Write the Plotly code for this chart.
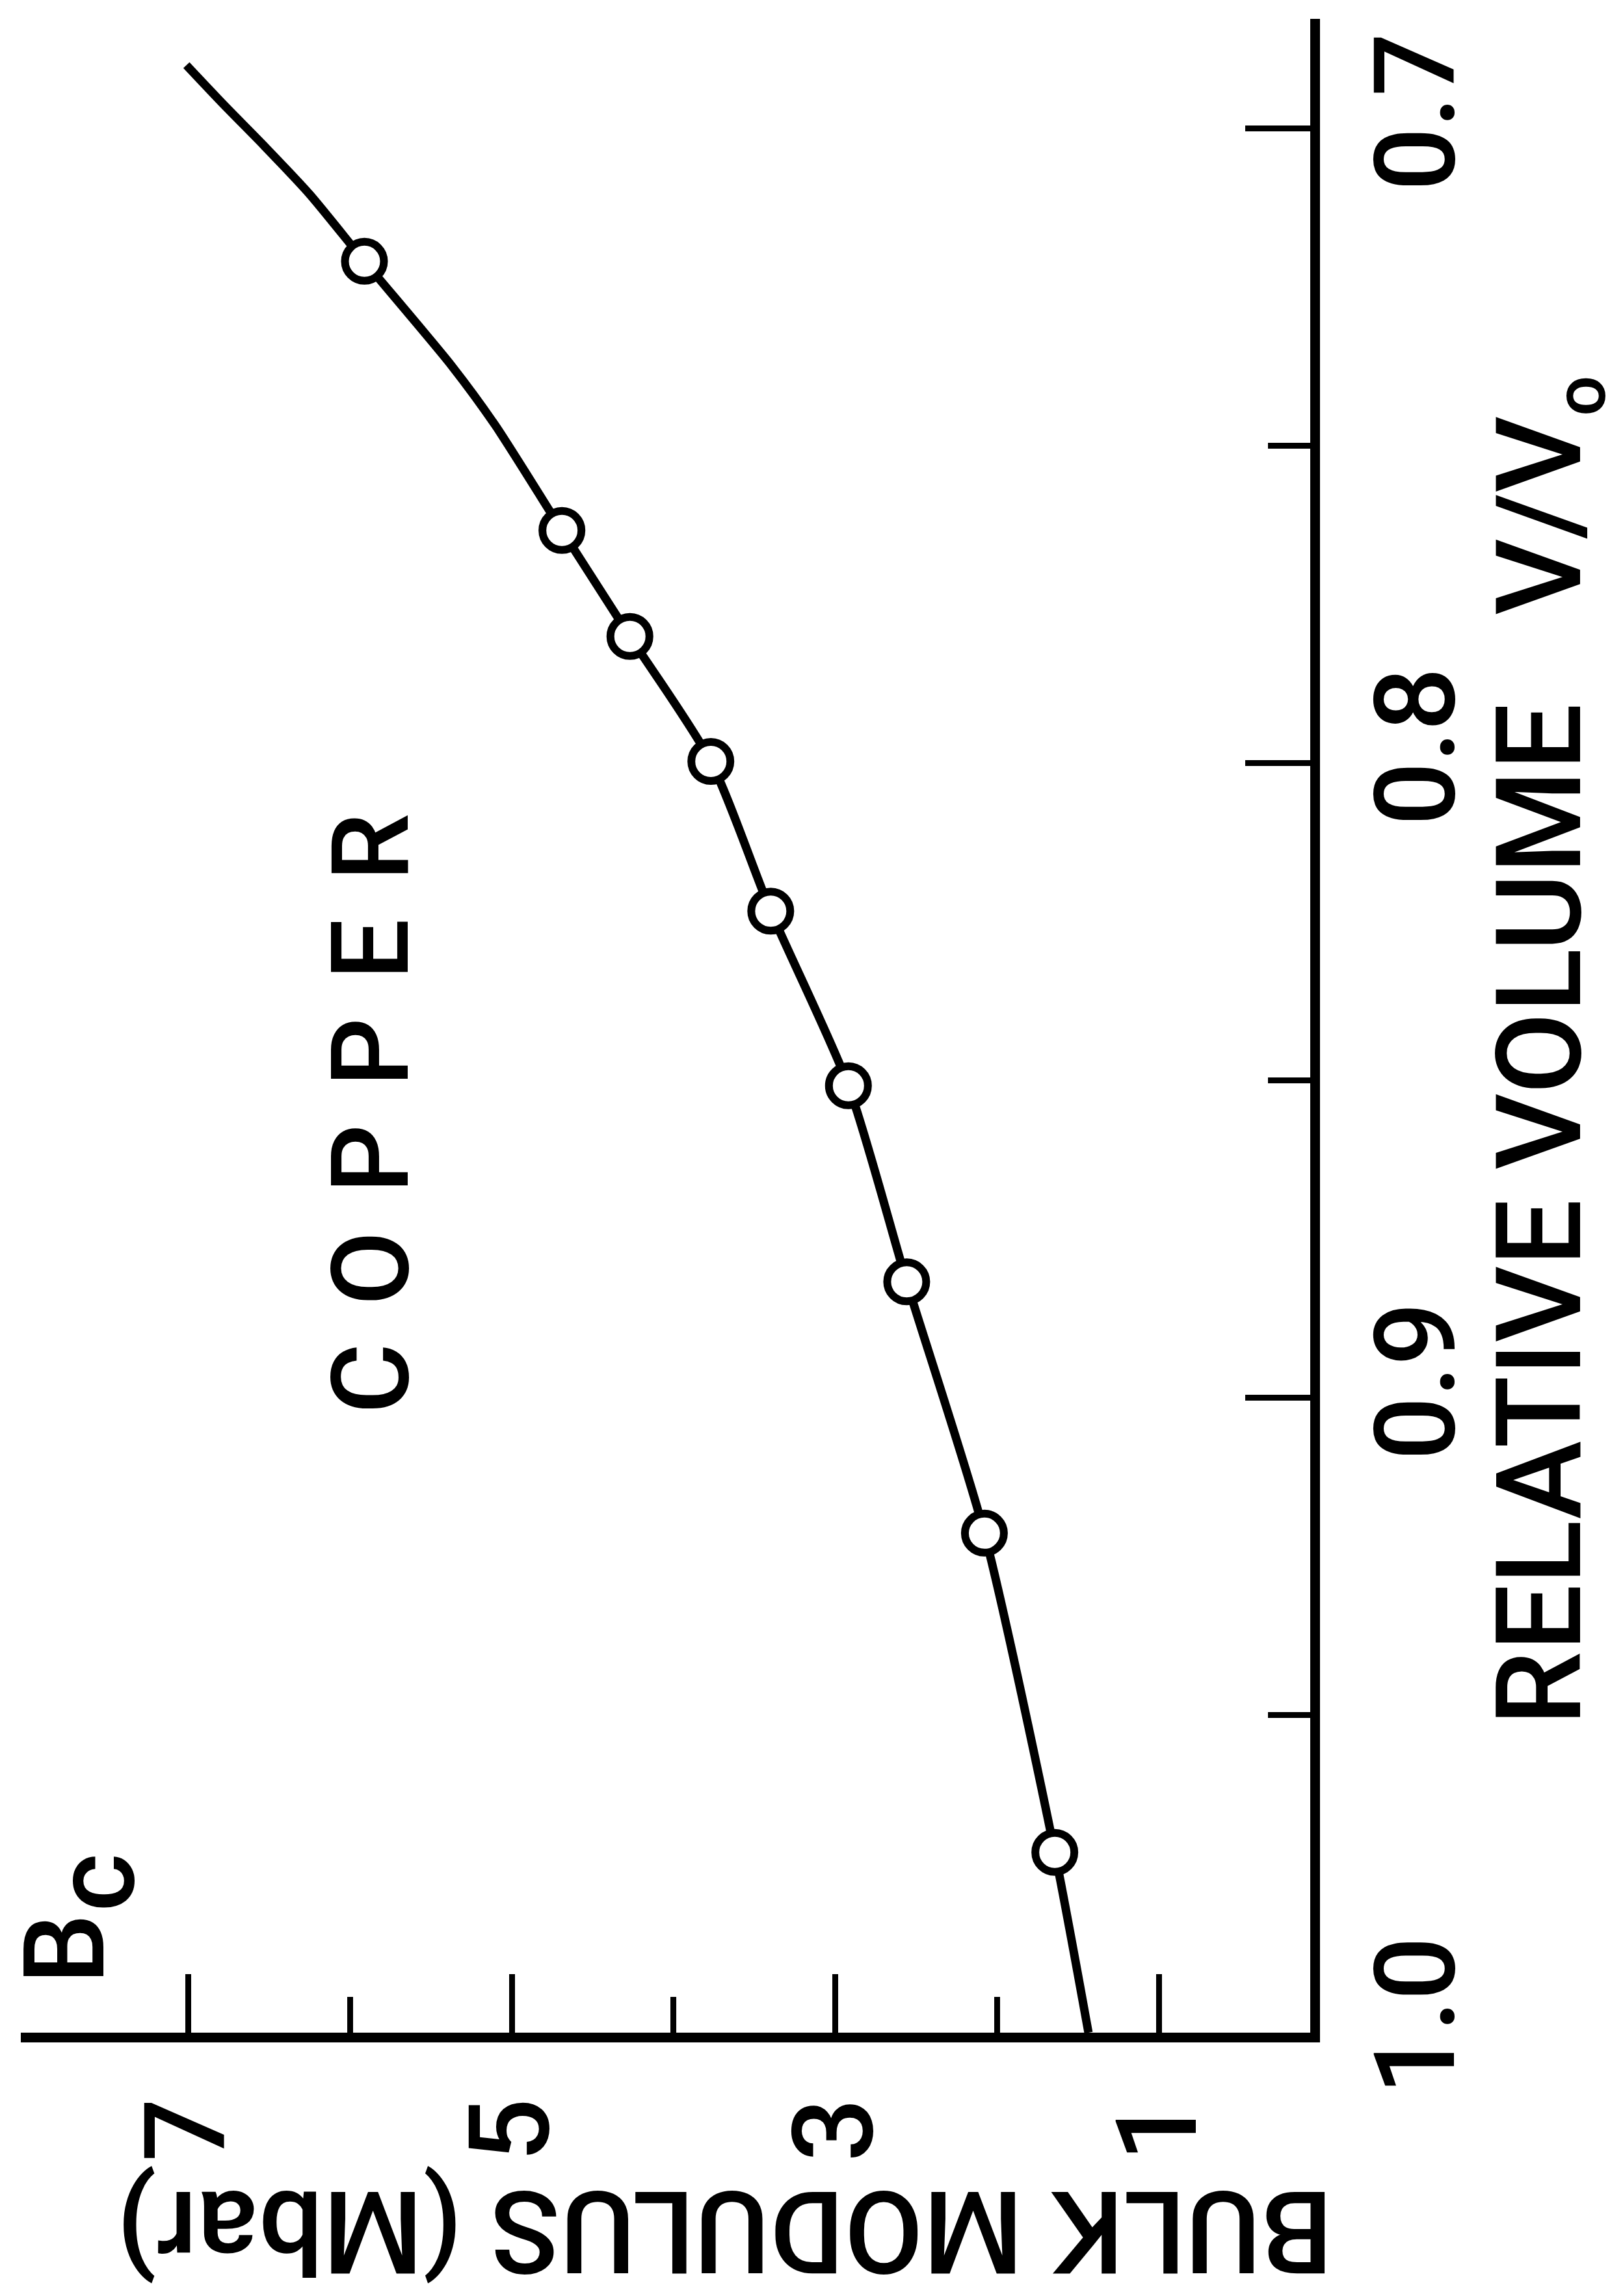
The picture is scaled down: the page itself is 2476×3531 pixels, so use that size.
import plotly.graph_objects as go

# ---- data ----
# measured points: bulk modulus B (Mbar) vs relative volume V/V0
pts_B = [5.91, 4.69, 4.27, 3.77, 3.40, 2.92, 2.56, 2.08, 1.645]
pts_V = [0.7209, 0.7633, 0.7800, 0.7997, 0.8233, 0.8508, 0.8817, 0.9213, 0.9716]

# smooth curve drawn through the points
curve_B = [7.01, 6.78, 6.53, 6.25, 5.91, 5.37, 5.10, 4.69, 4.27, 3.77, 3.40, 2.92, 2.56, 2.08, 1.645, 1.437]
curve_V = [0.690, 0.6962, 0.7027, 0.7103, 0.7209, 0.7374, 0.7468, 0.7633, 0.7800, 0.7997, 0.8233,
           0.8508, 0.8817, 0.9213, 0.9716, 1.000]

# axes
x_range = [8.033, 0.067]
x_major = [7, 5, 3, 1]
x_major_text = ["7", "5", "3", "1"]
x_minor = [6, 4, 2]
y_range = [1.0, 0.6827]
y_major = [0.7, 0.8, 0.9, 1.0]
y_major_text = ["0.7", "0.8", "0.9", "1.0"]
y_minor = [0.75, 0.85, 0.95]

FONT = "Roboto, Liberation Sans, Arial, sans-serif"
FW = 500

fig = go.Figure()
fig.add_trace(go.Scatter(
    x=curve_B, y=curve_V, mode="lines",
    line=dict(color="black", width=13, shape="spline", smoothing=0.7),
    hoverinfo="skip", showlegend=False))
fig.add_trace(go.Scatter(
    x=pts_B, y=pts_V, mode="markers",
    marker=dict(symbol="circle", size=60, color="white",
                line=dict(color="black", width=12)),
    showlegend=False))

tick_font = dict(size=172, family=FONT, color="black", weight=FW)

fig.update_layout(
    width=2476, height=3531,
    margin=dict(l=32, r=461, t=29, b=405),
    paper_bgcolor="white", plot_bgcolor="white",
    font=dict(family=FONT, color="black"),
    xaxis=dict(
        range=x_range, showgrid=False, zeroline=False,
        showline=True, linecolor="black", linewidth=15,
        ticks="inside", tickvals=x_major, ticktext=x_major_text,
        ticklen=90, tickwidth=9, tickcolor="black",
        minor=dict(tickvals=x_minor, ticks="inside", ticklen=55,
                   tickwidth=9, tickcolor="black"),
        tickangle=-90, tickfont=tick_font,
        ticklabelstandoff=17,
    ),
    yaxis=dict(
        range=y_range, side="right", showgrid=False, zeroline=False,
        showline=True, linecolor="black", linewidth=15,
        ticks="inside", tickvals=y_major, ticktext=y_major_text,
        ticklen=100, tickwidth=9, tickcolor="black",
        minor=dict(tickvals=y_minor, ticks="inside", ticklen=65,
                   tickwidth=9, tickcolor="black"),
        tickangle=-90, tickfont=tick_font,
        ticklabelstandoff=0,
    ),
)

sp = " \u200a"
annots = [
    dict(text=sp.join("COPPER"), x=0.2713, y=0.4565, textangle=-90, size=166),
    dict(text="RELATIVE VOLUME\u00a0\u00a0\u00a0V/V<sub><span style=\"font-size:110px\">o</span></sub>",
         x=1.1830, y=0.4876, textangle=-90, size=182),
    dict(text="BULK MODULUS (Mbar)", x=0.5456, y=-0.0985, textangle=180, size=176),
    dict(text="B", x=0.0343, y=0.0415, textangle=-90, size=172),
    dict(text="c", x=0.0574, y=0.0745, textangle=-90, size=172),
]
for a in annots:
    fig.add_annotation(
        text=a["text"], x=a["x"], y=a["y"], xref="paper", yref="paper",
        xanchor="center", yanchor="middle", showarrow=False,
        textangle=a["textangle"],
        font=dict(size=a["size"], family=FONT, color="black", weight=FW))

fig.write_html("out.html")
